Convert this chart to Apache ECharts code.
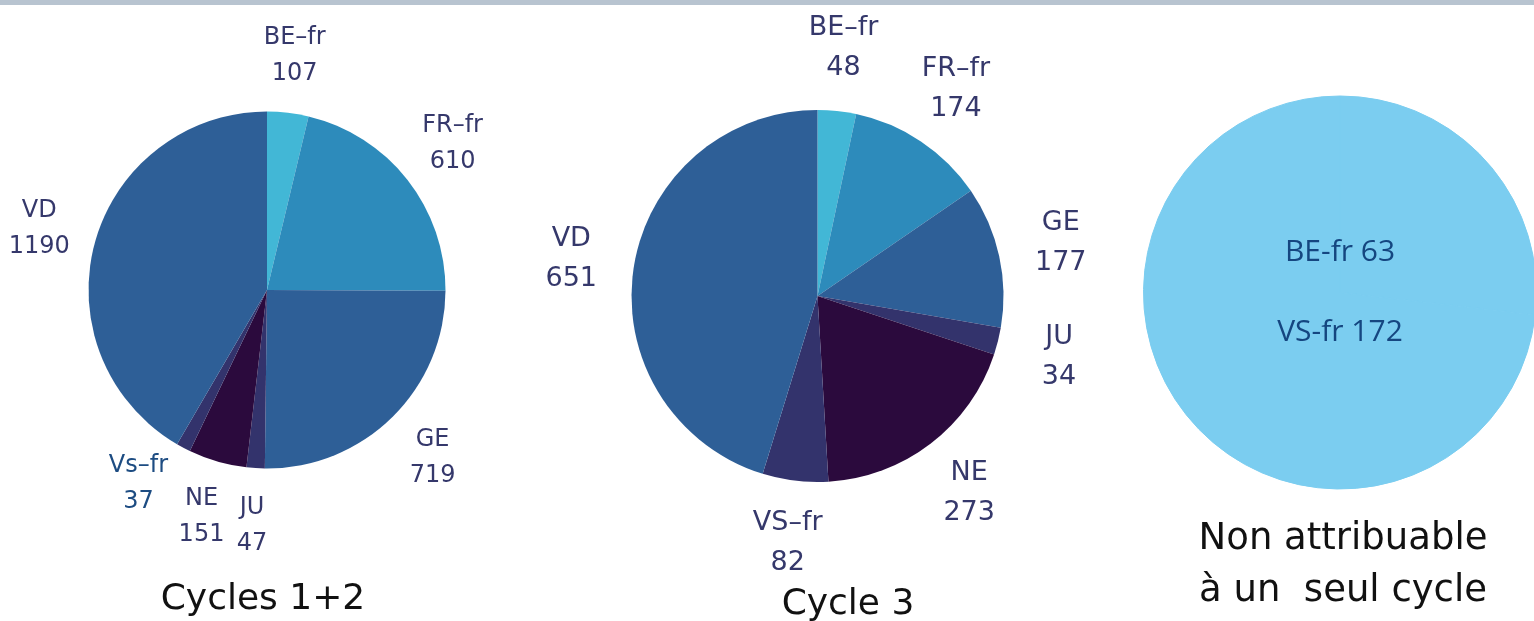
<!DOCTYPE html>
<html>
<head>
<meta charset="utf-8">
<script src="https://cdn.jsdelivr.net/npm/echarts@6/dist/echarts.min.js"></script>
<style>
html,body{margin:0;padding:0;background:#fff;}
#chart-box{width:1534px;height:621px;}
#top-bar{position:absolute;left:0;top:0;width:1534px;height:5px;background:#b8c4d0;}
</style>
</head>
<body>
<div id="chart-box"></div>
<div id="top-bar"></div>
<script>
// Cycles 1+2
var c12Names = ['BE–fr', 'FR–fr', 'GE', 'JU', 'NE', 'Vs–fr', 'VD'];
var c12Values = [107, 610, 719, 47, 151, 37, 1190];

// Cycle 3
var c3Names = ['BE–fr', 'FR–fr', 'GE', 'JU', 'NE', 'VS–fr', 'VD'];
var c3Values = [48, 174, 177, 34, 273, 82, 651];

// non attribuable
var naNames = ['BE-fr', 'VS-fr'];
var naValues = [63, 172];

var chartTitles = ['Cycles 1+2', 'Cycle 3', 'Non attribuable\nà un  seul cycle'];

// couleurs
var sliceColors = ['#42b7d6', '#2d8bbb', '#2e5f97', '#33336c', '#2b0a3d', '#33336c', '#2e5f97'];
var c12LabelColors = ['#35386b', '#35386b', '#35386b', '#35386b', '#35386b', '#1d4c82', '#35386b'];
var c3LabelColors = ['#35386b', '#35386b', '#35386b', '#35386b', '#35386b', '#35386b', '#35386b'];
// small nudge of the Vs-fr label, like in the original
var c12LabelShift = [[0, 0], [0, 0], [0, 0], [0, 0], [0, 0], [-18, -15], [0, 0]];
var c3LabelShift = [[0, 0], [0, 0], [0, 0], [0, 0], [0, 0], [0, 0], [0, 0]];
var naColor = '#7bcdf0';
var labelFont = 'DejaVu Sans';

function sliceData(names, values){
  var out = [];
  for (var i = 0; i < names.length; i++) {
    out.push({name: names[i], value: values[i], itemStyle: {color: sliceColors[i]}});
  }
  return out;
}

// transparent ring, only used to place the labels on the mid angle
function labelData(names, values, colors, shift){
  var out = [];
  for (var i = 0; i < names.length; i++) {
    out.push({name: names[i], value: values[i], label: {color: colors[i], offset: shift[i]}});
  }
  return out;
}

function labelRing(center, radius, names, values, colors, shift, size, lh){
  return {
    type: 'pie',
    silent: true,
    center: center,
    radius: radius,
    startAngle: 90,
    avoidLabelOverlap: false,
    itemStyle: {color: 'rgba(0,0,0,0)'},
    label: {
      show: true,
      position: 'inside',
      overflow: 'none',
      formatter: '{b}\n{c}',
      fontFamily: labelFont,
      fontSize: size,
      lineHeight: lh
    },
    labelLayout: {hideOverlap: false},
    labelLine: {show: false},
    emphasis: {disabled: true},
    data: labelData(names, values, colors, shift)
  };
}

var myChart = echarts.init(document.getElementById('chart-box'));

var naData = [];
for (var k = 0; k < naNames.length; k++) {
  naData.push({name: naNames[k], value: naValues[k], label: {show: k == 0}});
}

var option = {
  animation: false,
  backgroundColor: '#fff',
  title: [
    {text: chartTitles[0], left: 263, top: 582, textAlign: 'center', padding: 0,
     textStyle: {fontFamily: labelFont, fontSize: 36, fontWeight: 'normal', color: '#111'}},
    {text: chartTitles[1], left: 848, top: 587, textAlign: 'center', padding: 0,
     textStyle: {fontFamily: labelFont, fontSize: 36, fontWeight: 'normal', color: '#111'}},
    {text: chartTitles[2], left: 1343, top: 513, textAlign: 'center', padding: 0,
     textStyle: {fontFamily: labelFont, fontSize: 37, fontWeight: 'normal', color: '#111', lineHeight: 52}}
  ],
  series: [
    {
      type: 'pie',
      silent: true,
      center: [267, 290],
      radius: 178.5,
      startAngle: 90,
      label: {show: false},
      labelLine: {show: false},
      data: sliceData(c12Names, c12Values)
    },
    labelRing([267, 290], [223, 243], c12Names, c12Values, c12LabelColors, c12LabelShift, 24, 36),
    {
      type: 'pie',
      silent: true,
      center: [817.5, 296],
      radius: 186,
      startAngle: 90,
      label: {show: false},
      labelLine: {show: false},
      data: sliceData(c3Names, c3Values)
    },
    labelRing([817.5, 296], [236, 256], c3Names, c3Values, c3LabelColors, c3LabelShift, 27, 40),
    {
      type: 'pie',
      silent: true,
      center: [1340, 292.5],
      radius: 196.5,
      startAngle: 90,
      itemStyle: {color: naColor, borderColor: naColor, borderWidth: 1},
      label: {
        position: 'center',
        color: '#154680',
        fontFamily: 'Open Sans',
        fontSize: 30,
        lineHeight: 40,
        formatter: function(){
          var lines = [];
          for (var i = 0; i < naNames.length; i++) {
            lines.push(naNames[i] + ' ' + naValues[i]);
          }
          return lines.join('\n\n');
        }
      },
      labelLine: {show: false},
      data: naData
    }
  ]
};

myChart.setOption(option);
</script>
</body>
</html>
